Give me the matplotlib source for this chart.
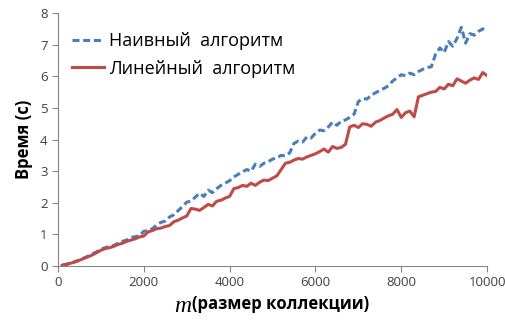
import numpy as np
import matplotlib.pyplot as plt

# collection sizes
m_values = np.arange(100, 10001, 100)

naive_time = [
    0.03, 0.06, 0.09, 0.14, 0.19, 0.25, 0.31, 0.38, 0.45, 0.53,
    0.58, 0.62, 0.65, 0.72, 0.78, 0.82, 0.90, 0.93, 0.96, 1.10,
    1.12, 1.18, 1.30, 1.38, 1.42, 1.55, 1.62, 1.75, 1.88, 2.02,
    2.05, 2.18, 2.30, 2.20, 2.40, 2.32, 2.45, 2.55, 2.62, 2.70,
    2.82, 2.90, 2.98, 3.05, 3.00, 3.22, 3.15, 3.25, 3.30, 3.38,
    3.42, 3.50, 3.48, 3.58, 3.88, 3.95, 3.92, 4.08, 4.05, 4.20,
    4.30, 4.28, 4.40, 4.55, 4.45, 4.58, 4.62, 4.70, 4.80, 5.20,
    5.30, 5.28, 5.40, 5.48, 5.55, 5.62, 5.70, 5.85, 5.95, 6.05,
    6.02, 6.10, 6.05, 6.15, 6.22, 6.28, 6.30, 6.70, 6.90, 6.75,
    7.10, 6.95, 7.20, 7.55, 7.05, 7.35, 7.30, 7.42, 7.50, 7.45,
]

linear_time = [
    0.02, 0.05, 0.09, 0.13, 0.18, 0.24, 0.29, 0.35, 0.42, 0.50,
    0.55, 0.58, 0.62, 0.68, 0.72, 0.78, 0.82, 0.86, 0.92, 0.95,
    1.08, 1.12, 1.18, 1.20, 1.25, 1.28, 1.40, 1.45, 1.52, 1.58,
    1.82, 1.80, 1.76, 1.85, 1.95, 1.90, 2.05, 2.08, 2.15, 2.20,
    2.45, 2.48, 2.55, 2.52, 2.62, 2.55, 2.65, 2.72, 2.70, 2.78,
    2.85, 3.05, 3.25, 3.28, 3.35, 3.40, 3.38, 3.45, 3.50, 3.55,
    3.62, 3.70, 3.60, 3.78, 3.72, 3.75, 3.85, 4.40, 4.45, 4.38,
    4.50, 4.48, 4.42, 4.55, 4.60, 4.68, 4.75, 4.80, 4.95, 4.70,
    4.85, 4.90, 4.72, 5.35, 5.40, 5.45, 5.50, 5.52, 5.65, 5.60,
    5.75, 5.70, 5.92, 5.85, 5.78, 5.88, 5.95, 5.90, 6.12, 6.02,
]

x_ticks = [0, 2000, 4000, 6000, 8000, 10000]
y_ticks = [0, 1, 2, 3, 4, 5, 6, 7, 8]

plt.rcParams['font.family'] = ['Open Sans', 'DejaVu Sans']

fig = plt.figure(figsize=(5.06, 3.21), dpi=100)
ax = fig.add_axes([0.1146, 0.1713, 0.848, 0.788])

ax.plot(m_values, naive_time, color='#4a7ebb', linewidth=2.2,
        linestyle=(0, (2.3, 1.2)), label='Наивный  алгоритм')
ax.plot(m_values, linear_time, color='#be4b48', linewidth=2.2,
        label='Линейный  алгоритм')

ax.set_xlim(0, 10000)
ax.set_ylim(0, 8)
ax.set_xticks(x_ticks)
ax.set_yticks(y_ticks)

for side in ['top', 'right']:
    ax.spines[side].set_visible(False)
for side in ['left', 'bottom']:
    ax.spines[side].set_color('#868686')
ax.tick_params(axis='both', colors='#868686', labelcolor='#404040',
               labelsize=9.5, length=4, direction='out')

ax.set_ylabel('Время (с)', fontsize=12, fontweight='bold', labelpad=5)

# x label: italic serif "m" + bold text
ax.text(0.31, -0.118, 'm', transform=ax.transAxes, fontsize=17,
        family='Liberation Serif', style='italic', ha='right', va='top')
ax.text(0.312, -0.115, '(размер коллекции)', transform=ax.transAxes,
        fontsize=12, fontweight='bold', ha='left', va='top')

ax.legend(loc='upper left', frameon=False, fontsize=13, handlelength=1.75,
          handletextpad=0.3, labelspacing=0.55, bbox_to_anchor=(-0.005, 0.99))

fig.savefig('out.png', dpi=100)
